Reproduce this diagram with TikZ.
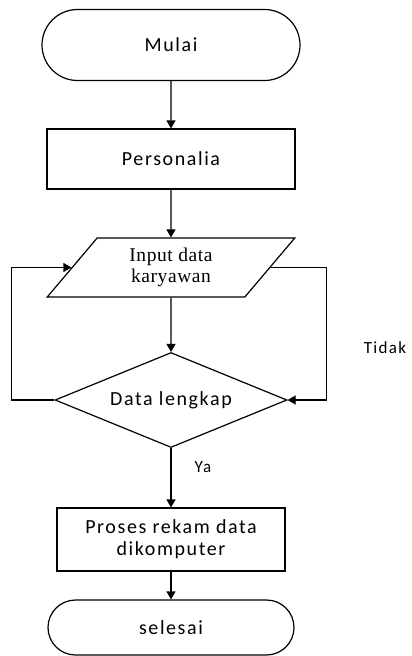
\documentclass[tikz,border=0pt]{standalone}
\usepackage{fontspec}
\setmainfont{Carlito}[LetterSpace=8]
\newfontfamily\timesfont{Liberation Serif}[LetterSpace=3]
\usetikzlibrary{shapes.geometric,shapes.misc,arrows.meta}

\begin{document}
\begin{tikzpicture}[x=1pt, y=1pt, line width=1.2pt,
    terminal/.style={draw, rounded rectangle, inner sep=0pt, font=\fontsize{20}{22}\selectfont},
    process/.style={draw, rectangle, inner sep=0pt, align=center, font=\fontsize{20}{22}\selectfont},
    io/.style={draw, trapezium, trapezium left angle=54, trapezium right angle=126, trapezium stretches=true, inner sep=0pt, align=center, font=\timesfont\fontsize{19.5}{21}\selectfont},
    decision/.style={draw, diamond, aspect=2.44, inner sep=0pt, font=\fontsize{20}{22}\selectfont},
    arr/.style={-{Triangle[length=8pt,width=9pt]}}]
    \useasboundingbox (0,0) rectangle (412,-656);
    \node[terminal, minimum width=258, minimum height=71] (mulai) at (171,-45) {Mulai};
    \node[process, minimum width=248, minimum height=60] (pers) at (171,-159) {Personalia};
    \node[io, minimum width=248, minimum height=59] (inp) at (171,-267.5) {Input data\\karyawan};
    \node[decision, minimum width=232, minimum height=95] (cek) at (171,-400) {Data lengkap};
    \node[process, minimum width=228, minimum height=63] (rekam) at (171,-539.5) {Proses rekam data\\dikomputer};
    \node[terminal, minimum width=246, minimum height=55] (selesai) at (171,-627.5) {selesai};
    \node[font=\fontsize{17}{19}\selectfont] (tidak) at (385,-348) {Tidak};
    \node[font=\fontsize{17}{19}\selectfont] (ya) at (203,-467) {Ya};
    \draw[arr] (mulai) -- (pers);
    \draw[arr] (pers) -- (inp);
    \draw[arr] (inp) -- (cek);
    \draw[arr] (cek) -- (rekam);
    \draw[arr] (rekam) -- (selesai);
    \draw[arr] (cek.west) -- ++(-43,0) |- (inp.west);
    \draw[arr] (inp.east) -- ++(56,0) |- (cek.east);
\end{tikzpicture}
\end{document}
